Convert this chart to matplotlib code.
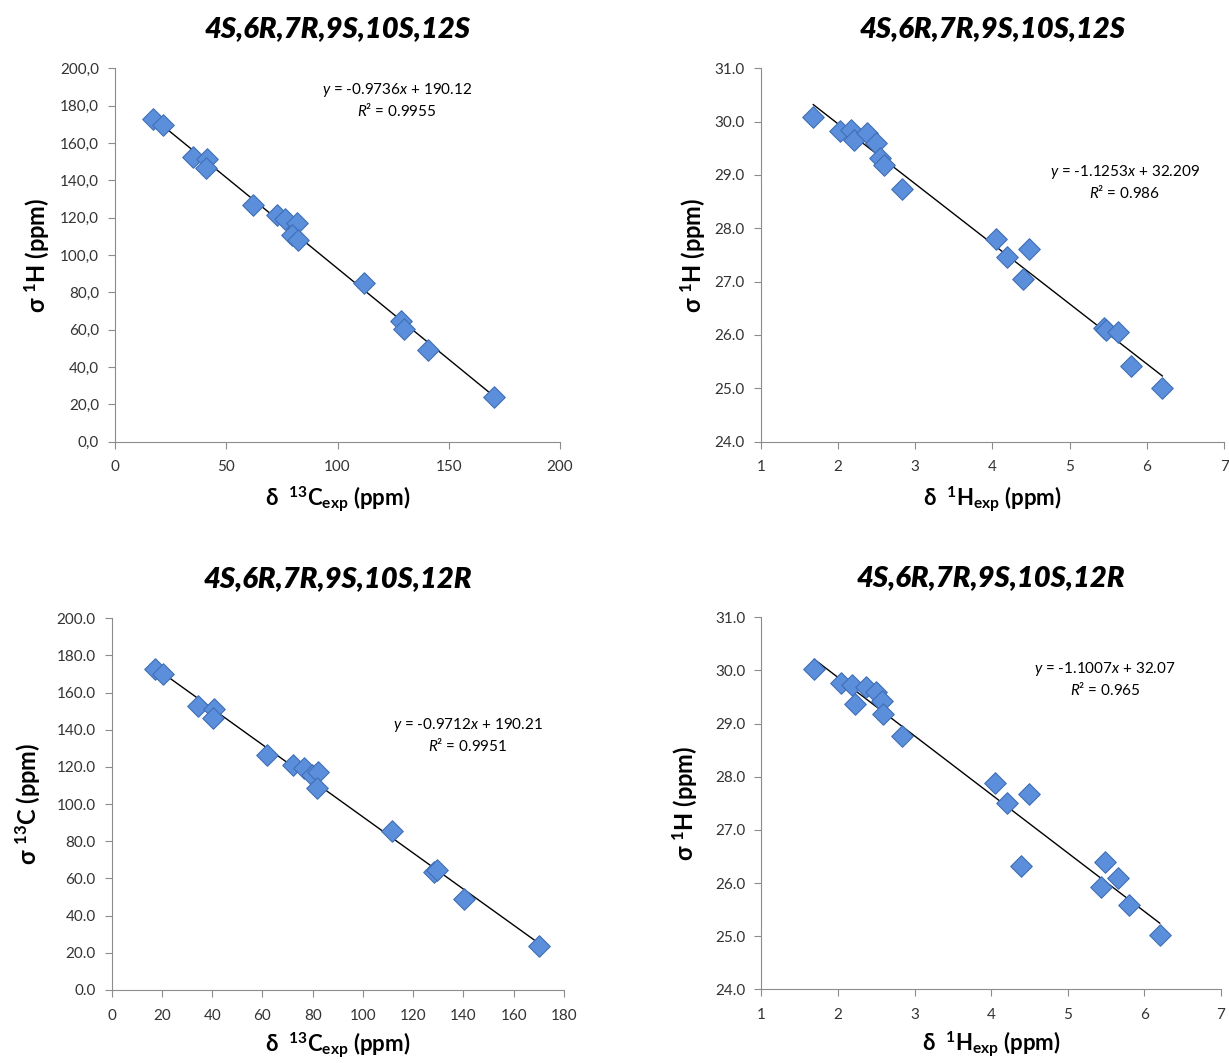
import matplotlib
matplotlib.use("Agg")
import matplotlib.pyplot as plt
from matplotlib.ticker import FuncFormatter, MultipleLocator

plt.rcParams['font.family'] = ['Lato', 'DejaVu Sans']
plt.rcParams['mathtext.fontset'] = 'custom'
plt.rcParams['mathtext.rm'] = 'Lato'
plt.rcParams['mathtext.it'] = 'Lato:italic'
plt.rcParams['mathtext.bf'] = 'Lato:bold'

# --- data ---
# 4S,6R,7R,9S,10S,12S  13C
c13_s_x = [17.2, 21.4, 34.9, 41.2, 40.9, 62.2, 73.0, 76.5, 81.9, 79.4, 82.4,
           111.9, 128.5, 129.9, 140.8, 170.3]
c13_s_y = [172.7, 169.6, 152.7, 151.4, 146.8, 126.8, 121.4, 119.0, 117.3, 110.7, 108.0,
           85.2, 64.8, 60.2, 49.1, 24.1]
# 4S,6R,7R,9S,10S,12S  1H
h1_s_x = [1.68, 2.03, 2.17, 2.21, 2.37, 2.49, 2.55, 2.59, 2.83, 4.04, 4.19, 4.48,
          4.39, 5.44, 5.47, 5.63, 5.79, 6.20]
h1_s_y = [30.08, 29.83, 29.84, 29.66, 29.78, 29.59, 29.31, 29.18, 28.74, 27.79, 27.46,
          27.61, 27.05, 26.14, 26.09, 26.06, 25.42, 25.01]
# 4S,6R,7R,9S,10S,12R  13C
c13_r_x = [17.2, 20.6, 34.5, 40.9, 40.5, 61.9, 72.0, 76.5, 79.6, 82.2, 81.8,
           111.7, 128.4, 129.6, 140.4, 170.1]
c13_r_y = [172.6, 169.9, 152.8, 151.2, 146.2, 126.5, 121.1, 119.3, 115.7, 117.1, 108.5,
           85.7, 63.5, 64.5, 48.8, 23.7]
# 4S,6R,7R,9S,10S,12R  1H
h1_r_x = [1.69, 2.04, 2.18, 2.22, 2.37, 2.50, 2.57, 2.59, 2.84, 4.05, 4.20, 4.49,
          4.39, 5.48, 5.43, 5.65, 5.80, 6.20]
h1_r_y = [30.03, 29.76, 29.73, 29.37, 29.68, 29.60, 29.43, 29.18, 28.76, 27.88, 27.50,
          27.67, 26.32, 26.40, 25.92, 26.09, 25.59, 25.02]

# trend lines (slope, intercept) and R^2 as printed
fits = [(-0.9736, 190.12, "0.9955"), (-1.1253, 32.209, "0.986"),
        (-0.9712, 190.21, "0.9951"), (-1.1007, 32.07, "0.965")]
eq_texts = ["-0.9736$x$ + 190.12", "-1.1253$x$ + 32.209",
            "-0.9712$x$ + 190.21", "-1.1007$x$ + 32.07"]

title_s = "4S,6R,7R,9S,10S,12S"
title_r = "4S,6R,7R,9S,10S,12R"

fig = plt.figure(figsize=(12.29, 10.63), dpi=100)

panels = [
    dict(rect=[0.0936, 0.5845, 0.3621, 0.3513], x=c13_s_x, y=c13_s_y, title=title_s,
         xlim=(0, 200), xstep=50, ylim=(0, 200), ystep=20, comma=True,
         xlabel=r"δ  $^{\mathbf{13}}\mathbf{C}_{\mathbf{exp}}$ (ppm)", ylabel=r"σ $^{\mathbf{1}}\mathbf{H}$ (ppm)",
         eq=(0.634, 0.916), xl=-0.115, yl=-0.145),
    dict(rect=[0.619, 0.5845, 0.377, 0.3513], x=h1_s_x, y=h1_s_y, title=title_s,
         xlim=(1, 7), xstep=1, ylim=(24, 31), ystep=1, comma=False,
         xlabel=r"δ  $^{\mathbf{1}}\mathbf{H}_{\mathbf{exp}}$ (ppm)", ylabel=r"σ $^{\mathbf{1}}\mathbf{H}$ (ppm)",
         eq=(0.786, 0.695), xl=-0.115, yl=-0.115),
    dict(rect=[0.0909, 0.0687, 0.368, 0.3497], x=c13_r_x, y=c13_r_y, title=title_r,
         xlim=(0, 180), xstep=20, ylim=(0, 200), ystep=20, comma=False,
         xlabel=r"δ  $^{\mathbf{13}}\mathbf{C}_{\mathbf{exp}}$ (ppm)", ylabel=r"σ $^{\mathbf{13}}\mathbf{C}$ (ppm)",
         eq=(0.788, 0.685), xl=-0.11, yl=-0.155),
    dict(rect=[0.6195, 0.0693, 0.374, 0.35], x=h1_r_x, y=h1_r_y, title=title_r,
         xlim=(1, 7), xstep=1, ylim=(24, 31), ystep=1, comma=False,
         xlabel=r"δ  $^{\mathbf{1}}\mathbf{H}_{\mathbf{exp}}$ (ppm)", ylabel=r"σ $^{\mathbf{1}}\mathbf{H}$ (ppm)",
         eq=(0.748, 0.834), xl=-0.11, yl=-0.135),
]

for p, (slope, icpt, r2), eq in zip(panels, fits, eq_texts):
    ax = fig.add_axes(p["rect"])
    ax.scatter(p["x"], p["y"], marker="D", s=120, color="#5b8fdc",
               edgecolors="#3f6fb5", linewidths=0.8, zorder=3)
    x0, x1 = min(p["x"]), max(p["x"])
    ax.plot([x0, x1], [slope * x0 + icpt, slope * x1 + icpt], color="black", lw=1, zorder=2)

    ax.set_xlim(*p["xlim"])
    ax.set_ylim(*p["ylim"])
    ax.xaxis.set_major_locator(MultipleLocator(p["xstep"]))
    ax.yaxis.set_major_locator(MultipleLocator(p["ystep"]))
    if p["comma"]:
        ax.yaxis.set_major_formatter(FuncFormatter(lambda v, _: f"{v:.1f}".replace(".", ",")))
    else:
        ax.yaxis.set_major_formatter(FuncFormatter(lambda v, _: f"{v:.1f}"))
    ax.xaxis.set_major_formatter(FuncFormatter(lambda v, _: f"{v:g}"))

    for side in ["top", "right"]:
        ax.spines[side].set_visible(False)
    for side in ["left", "bottom"]:
        ax.spines[side].set_color("#8c8c8c")
    ax.tick_params(colors="#8c8c8c", labelcolor="#333333", labelsize=11, direction="out",
                   length=5)
    ax.tick_params(axis="x", pad=8.5)
    ax.tick_params(axis="y", pad=6.5)

    ax.set_title(p["title"], fontsize=21, fontweight="heavy", fontstyle="italic", pad=22.5)
    ax.set_xlabel(p["xlabel"], fontsize=16, fontweight="bold")
    ax.set_ylabel(p["ylabel"], fontsize=17, fontweight="bold")
    ax.xaxis.set_label_coords(0.5, p["xl"])
    ax.yaxis.set_label_coords(p["yl"], 0.5)

    ax.text(p["eq"][0], p["eq"][1], "$y$ = " + eq + "\n$R$² = " + r2,
            transform=ax.transAxes, ha="center", va="center", fontsize=11,
            linespacing=1.2)

fig.savefig("out.png", dpi=100)
